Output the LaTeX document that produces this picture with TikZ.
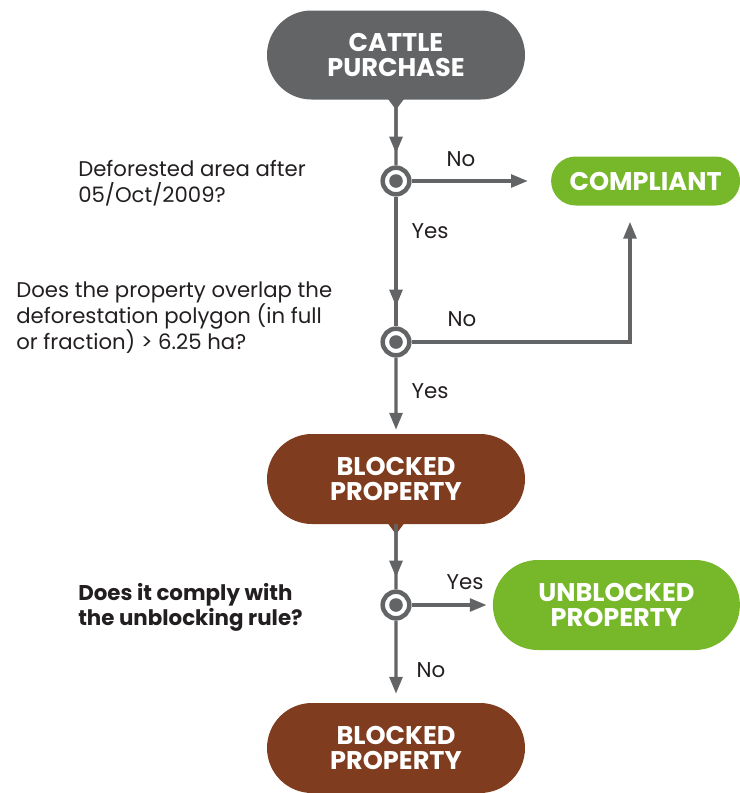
\documentclass[tikz,border=0pt]{standalone}
\usepackage{fontspec}
\setmainfont{Poppins}
\usepackage{tikz}
\usetikzlibrary{positioning, arrows.meta, shapes}
\usepackage{xcolor}

\definecolor{slate}{HTML}{636466}
\definecolor{rust}{HTML}{7F3C1E}
\definecolor{leaf}{HTML}{76B82A}
\definecolor{ink}{HTML}{231F20}

\tikzset{
    pill/.style={rounded rectangle, fill=#1, text=white, align=center, inner sep=0pt,
        font=\fontsize{18.2}{17.8}\selectfont\bfseries},
    choice/.style={circle, draw=slate, line width=3.2pt, fill=white, minimum size=0.665cm, inner sep=0pt,
        path picture={\fill[slate] (path picture bounding box.center) circle (0.17cm);}},
    line/.style={draw=slate, line width=2.3pt},
    flow/.style={line, -{Triangle[length=0.42cm, width=0.32cm]}},
    feed/.style={line, postaction={flow, shorten >=#1}},
    answer/.style={text=ink, font=\fontsize{15.2}{18}\selectfont},
    question/.style={text=ink, align=left, anchor=west, inner sep=0pt, font=\fontsize{15.1}{18.5}\selectfont}
}

\begin{document}
\begin{tikzpicture}
    \useasboundingbox (0,0) rectangle (18.5,-19.825);

    % Start and outcomes
    \node[pill=slate, minimum width=6.45cm, minimum height=2.225cm] (purchase) at (9.9,-1.375) {CATTLE\\PURCHASE};
    \node[pill=leaf, minimum width=4.725cm, minimum height=1.225cm] (compliant) at (16.14,-4.525) {COMPLIANT};
    \node[pill=rust, minimum width=6.45cm, minimum height=2.25cm] (blocked) at (9.9,-11.975) {BLOCKED\\PROPERTY};
    \node[pill=leaf, minimum width=6.175cm, minimum height=2.25cm] (unblocked) at (15.41,-15.125) {UNBLOCKED\\PROPERTY};
    \node[pill=rust, minimum width=6.45cm, minimum height=2.25cm] (stillblocked) at (9.9,-18.7) {BLOCKED\\PROPERTY};

    % Pointers under the pills
    \fill[slate] ([xshift=-0.2cm, yshift=0.02cm]purchase.south) -- ([xshift=0.2cm, yshift=0.02cm]purchase.south) -- ([yshift=-0.25cm]purchase.south) -- cycle;
    \fill[rust] ([xshift=-0.2cm, yshift=0.02cm]blocked.south) -- ([xshift=0.2cm, yshift=0.02cm]blocked.south) -- ([yshift=-0.25cm]blocked.south) -- cycle;

    % Decisions
    \node[choice] (date) at (9.9,-4.525) {};
    \node[choice] (overlap) at (9.9,-8.55) {};
    \node[choice] (rule) at (9.9,-15.125) {};

    % Questions
    \node[question] (dateq) at (1.95,-4.575) {Deforested area after\\05/Oct/2009?};
    \node[question] (overlapq) at (0.4,-7.95) {Does the property overlap the\\deforestation polygon (in full\\or fraction) > 6.25 ha?};
    \node[question, font=\fontsize{15.2}{18}\selectfont\bfseries] (ruleq) at (1.95,-15.18) {Does it comply with\\the unblocking rule?};

    % Connectors
    \draw[feed=0.3cm] (purchase) -- (date);
    \draw[flow, shorten >=0.575cm] (date) -- (compliant);
    \draw[feed=0.5cm] (date) -- (overlap);
    \draw[flow, shorten >=0.4cm] (overlap) -| ([xshift=-0.39cm]compliant.south);
    \draw[flow, shorten >=0.1cm] (overlap) -- (blocked);
    \draw[feed=0.3cm] (blocked) -- (rule);
    \draw[flow, shorten >=0.15cm] (rule) -- (unblocked);
    \draw[flow, shorten >=0.225cm] (rule) -- (stillblocked);

    % Answers
    \node[answer] (no1) at (11.525,-3.975) {No};
    \node[answer] (yes1) at (10.75,-5.775) {Yes};
    \node[answer] (no2) at (11.55,-7.975) {No};
    \node[answer] (yes2) at (10.75,-9.775) {Yes};
    \node[answer] (yes3) at (11.625,-14.55) {Yes};
    \node[answer] (no3) at (10.775,-16.75) {No};
\end{tikzpicture}
\end{document}
